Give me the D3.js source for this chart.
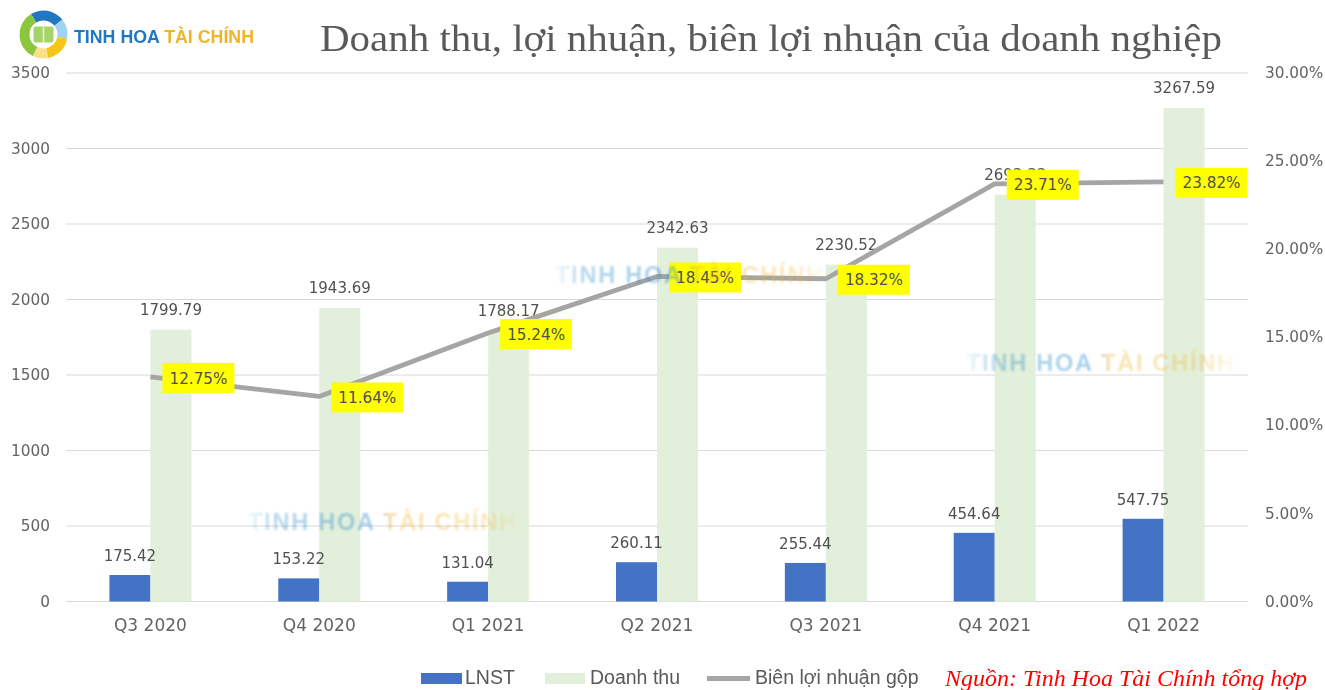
<!DOCTYPE html>
<html><head><meta charset="utf-8">
<script src="https://cdnjs.cloudflare.com/ajax/libs/d3/7.8.5/d3.min.js"></script>
<style>html,body{margin:0;padding:0;background:#fff;overflow:hidden}svg{display:block;filter:blur(0.35px)}</style>
</head><body><svg id="c" width="1325" height="690"></svg>
<script>
const quarters=["Q3 2020","Q4 2020","Q1 2021","Q2 2021","Q3 2021","Q4 2021","Q1 2022"];
const lnst=[175.42,153.22,131.04,260.11,255.44,454.64,547.75];
const revenue=[1799.79,1943.69,1788.17,2342.63,2230.52,2693.33,3267.59];
const margin=[12.75,11.64,15.24,18.45,18.32,23.71,23.82];
const revTicks=[0,500,1000,1500,2000,2500,3000,3500];
const pctTicks=[0,5,10,15,20,25,30];
const titleText="Doanh thu, lợi nhuận, biên lợi nhuận của doanh nghiệp";
const brand="TINH HOA TÀI CHÍNH";
const sourceText="Nguồn: Tinh Hoa Tài Chính tổng hợp";
const legendItems=["LNST","Doanh thu","Biên lợi nhuận gộp"];

const W=1325,H=690,L=66,R=1248,T=73,B=601.5;
const sans="'DejaVu Sans',sans-serif";
const lib="'Liberation Sans',sans-serif";
const serif="'Liberation Serif',serif";
const svg=d3.select("#c");
const x=d3.scaleBand().domain(quarters).range([L,R]);
const y=d3.scaleLinear().domain([0,3500]).range([B,T]);
const yp=d3.scaleLinear().domain([0,30]).range([B,T]);
const bw=41;
const cx=q=>x(q)+x.bandwidth()/2;

const defs=svg.append("defs");
const grad=defs.append("linearGradient").attr("id","wm");
[[0,"#2f8fd0",0.1],[0.1,"#2f8fd0",0.8],[0.46,"#2f8fd0",1],[0.54,"#f0b429",0.9],[0.9,"#f0b429",0.7],[1,"#f0b429",0.1]].forEach(s=>
 grad.append("stop").attr("offset",s[0]).attr("stop-color",s[1]).attr("stop-opacity",s[2]));
defs.append("filter").attr("id","soft").append("feGaussianBlur").attr("stdDeviation",1.2);

// gridlines
svg.append("g").selectAll("line").data(revTicks).join("line")
 .attr("x1",L).attr("x2",R).attr("y1",d=>y(d)).attr("y2",d=>y(d))
 .attr("stroke","#d9d9d9").attr("stroke-width",1.2);

// axes
const axL=svg.append("g").attr("transform",`translate(${L},0)`).call(d3.axisLeft(y).tickValues(revTicks).tickSize(0).tickPadding(16).tickFormat(d3.format("d")));
const axR=svg.append("g").attr("transform",`translate(${R},0)`).call(d3.axisRight(yp).tickValues(pctTicks).tickSize(0).tickPadding(17).tickFormat(d=>d.toFixed(2)+"%"));
const axB=svg.append("g").attr("transform",`translate(0,${B})`).call(d3.axisBottom(x).tickSize(0).tickPadding(17));
[axL,axR,axB].forEach(a=>{a.select(".domain").remove();a.selectAll("text").attr("font-family",sans).attr("font-size",15.3).attr("fill","#636363");});
axB.selectAll("text").attr("font-size",17);
axL.selectAll("text").attr("dy","0.3em");
axR.selectAll("text").attr("dy","0.3em");

// bars
svg.append("g").selectAll("rect").data(quarters).join("rect")
 .attr("x",q=>cx(q)-bw).attr("width",bw).attr("y",(q,i)=>y(lnst[i])).attr("height",(q,i)=>B-y(lnst[i])).attr("fill","#4472c4");
svg.append("g").selectAll("rect").data(quarters).join("rect")
 .attr("x",q=>cx(q)).attr("width",bw).attr("y",(q,i)=>y(revenue[i])).attr("height",(q,i)=>B-y(revenue[i])).attr("fill","#e2efda");

// bar labels
const lab=svg.append("g").attr("font-family",sans).attr("font-size",15).attr("fill","#505050").attr("text-anchor","middle");
lab.selectAll(".a").data(quarters).join("text").attr("class","a")
 .attr("x",q=>cx(q)-bw/2).attr("y",(q,i)=>y(lnst[i])-14).text((q,i)=>lnst[i].toFixed(2));
lab.selectAll(".b").data(quarters).join("text").attr("class","b")
 .attr("x",q=>cx(q)+bw/2).attr("y",(q,i)=>y(revenue[i])-15).text((q,i)=>revenue[i].toFixed(2));

// margin line
svg.append("path").datum(margin)
 .attr("d",d3.line().x((d,i)=>cx(quarters[i])).y(d=>yp(d)))
 .attr("fill","none").attr("stroke","#a5a5a5").attr("stroke-width",4.8).attr("stroke-linejoin","round");

// margin labels
const ml=svg.append("g").selectAll("g").data(margin).join("g")
 .attr("transform",(d,i)=>`translate(${cx(quarters[i])+48},${yp(d)+1})`);
ml.append("rect").attr("x",-36).attr("y",-15).attr("width",72).attr("height",30).attr("fill","#ffff00");
ml.append("text").attr("text-anchor","middle").attr("dy","0.37em").attr("font-family",sans).attr("font-size",15.2).attr("fill","#505050").text(d=>d.toFixed(2)+"%");

// watermarks
const wmPos=[[248,530],[555,283],[966,371]];
svg.append("g").selectAll("text").data(wmPos).join("text")
 .attr("x",d=>d[0]).attr("y",d=>d[1]).text(brand)
 .attr("font-family",lib).attr("font-weight",700).attr("font-size",23.5)
 .attr("textLength",268).attr("lengthAdjust","spacing")
 .attr("fill","url(#wm)").attr("opacity",0.42).attr("filter","url(#soft)");

// title
svg.append("text").attr("x",320).attr("y",51).text(titleText)
 .attr("font-family",serif).attr("font-size",37).attr("fill","#595959")
 .attr("textLength",902).attr("lengthAdjust","spacingAndGlyphs");

// logo
const logo=svg.append("g").attr("transform","translate(43.5,34.5)");
const arc=d3.arc().innerRadius(14).outerRadius(24);
const logoSegs=[[-0.55,0.9,"#1f78c1"],[0.9,1.75,"#9fd4f0"],[1.75,2.95,"#f5c518"],[2.95,3.6,"#fbe08a"],[3.6,5.73,"#8cc63f"]];
logoSegs.forEach(s=>logo.append("path").attr("d",arc({startAngle:s[0],endAngle:s[1]})).attr("fill",s[2]));
logo.append("rect").attr("x",-10).attr("y",-8).attr("width",20).attr("height",16).attr("rx",2).attr("fill","#a5d46a");
logo.append("line").attr("x1",0).attr("x2",0).attr("y1",-8).attr("y2",8).attr("stroke","#e8f5d0").attr("stroke-width",1.5);
const brandT=svg.append("text").attr("x",74).attr("y",42.5).attr("font-family",lib).attr("font-weight",700).attr("font-size",18).attr("textLength",180).attr("lengthAdjust","spacingAndGlyphs");
brandT.append("tspan").attr("fill","#1f78c1").text(brand.slice(0,9));
brandT.append("tspan").attr("fill","#f0b429").text(brand.slice(9));

// legend
const lg=svg.append("g").attr("font-family",lib).attr("font-size",19.5).attr("fill","#595959");
lg.append("rect").attr("x",421).attr("y",673).attr("width",41).attr("height",11).attr("fill","#4472c4");
lg.append("text").attr("x",465).attr("y",684).text(legendItems[0]);
lg.append("rect").attr("x",545).attr("y",673).attr("width",40).attr("height",11).attr("fill","#e2efda");
lg.append("text").attr("x",590).attr("y",684).text(legendItems[1]);
lg.append("line").attr("x1",707).attr("x2",750).attr("y1",678.5).attr("y2",678.5).attr("stroke","#a5a5a5").attr("stroke-width",4.8);
lg.append("text").attr("x",755).attr("y",684).text(legendItems[2]);

svg.append("text").attr("x",945).attr("y",686).text(sourceText)
 .attr("font-family",serif).attr("font-style","italic").attr("font-size",23).attr("fill","#ff0000")
 .attr("textLength",362).attr("lengthAdjust","spacingAndGlyphs");
</script></body></html>
